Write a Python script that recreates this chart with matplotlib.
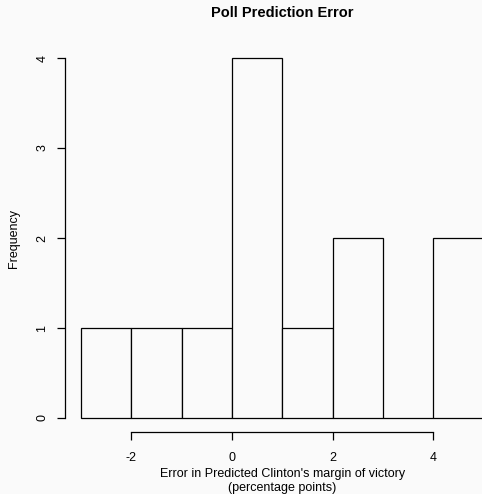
import matplotlib
matplotlib.use("Agg")
import matplotlib.pyplot as plt

plt.rcParams['font.family'] = ['Liberation Sans', 'DejaVu Sans']

# Histogram of poll prediction errors (unit-width bins)
bin_edges = [-3, -2, -1, 0, 1, 2, 3, 4, 5]
counts = [1, 1, 1, 4, 1, 2, 0, 2]
x_ticks = [-2, 0, 2, 4]
y_ticks = [0, 1, 2, 3, 4]

bg = '#fafafa'
fig = plt.figure(figsize=(4.82, 4.94), dpi=100, facecolor=bg)
ax = fig.add_axes([0.1347, 0.1247, 0.9017, 0.787], facecolor=bg)

lefts = bin_edges[:-1]
widths = [b - a for a, b in zip(bin_edges[:-1], bin_edges[1:])]
ax.bar(lefts, counts, width=widths, align='edge', facecolor=bg,
       edgecolor='black', linewidth=0.9)

ax.set_xlim(-3.32, 5.32)
ax.set_ylim(-0.16, 4.16)

for s in ('top', 'right'):
    ax.spines[s].set_visible(False)
ax.spines['left'].set_bounds(0, 4)
ax.spines['bottom'].set_bounds(-2, 4)
for s in ('left', 'bottom'):
    ax.spines[s].set_linewidth(0.9)

ax.set_xticks(x_ticks)
ax.set_xticklabels([str(v) for v in x_ticks])
ax.set_yticks(y_ticks)
ax.set_yticklabels([str(v) for v in y_ticks], rotation=90, va='center')
ax.tick_params(axis='both', length=5.8, width=0.9, labelsize=9)
ax.tick_params(axis='x', pad=8.5)
ax.tick_params(axis='y', pad=6)

title = ax.set_title('Poll Prediction Error', fontsize=10.5, fontweight='bold', pad=19)
ax.set_xlabel("Error in Predicted Clinton's margin of victory\n(percentage points)",
              fontsize=9, labelpad=3, linespacing=1.15)
ax.set_ylabel('Frequency', fontsize=9, labelpad=12)

fig.savefig('out.png', dpi=100, facecolor=bg)
